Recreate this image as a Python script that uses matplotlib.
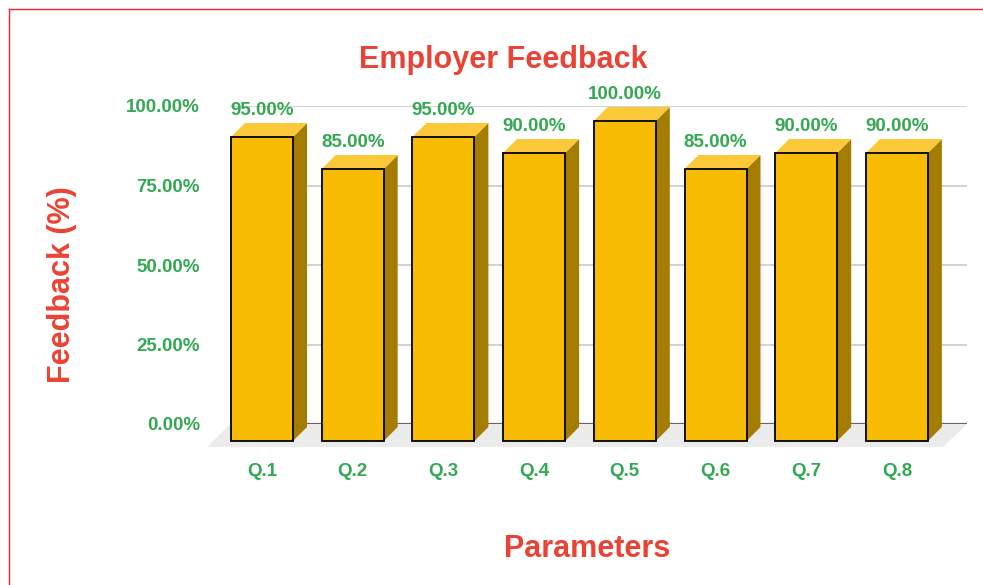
import matplotlib
matplotlib.use("Agg")
import matplotlib.pyplot as plt
from matplotlib.patches import Rectangle, Polygon
from matplotlib.lines import Line2D

# ---- data ----
categories = ["Q.1", "Q.2", "Q.3", "Q.4", "Q.5", "Q.6", "Q.7", "Q.8"]
feedback = [95, 85, 95, 90, 100, 85, 90, 90]
yticks = [0, 25, 50, 75, 100]

# ---- style ----
plt.rcParams['font.family'] = ['Liberation Sans', 'DejaVu Sans']
GREEN = "#34A853"
RED = "#EA4335"
FRONT = "#F9BC04"
TOP = "#FBC838"
SIDE = "#A57C02"

W, H = 983, 585
fig = plt.figure(figsize=(W / 100, H / 100), dpi=100)
fig.patch.set_facecolor("white")

def fx(px):
    return px / W

def fy(py_top):
    return (H - py_top) / H

# red frame (top and left lines visible)
fig.add_artist(Line2D([fx(9), fx(9)], [fy(9), fy(H + 5)], color="#E8262B", lw=1.0, transform=fig.transFigure))
fig.add_artist(Line2D([fx(9), fx(W + 5)], [fy(9), fy(9)], color="#E8262B", lw=1.0, transform=fig.transFigure))

# ---- back wall axes (gridlines, y tick labels, floor) ----
bl, br, bb, bt = 230, 967, 424, 106
axb = fig.add_axes([fx(bl), fy(bb), fx(br - bl), (bb - bt) / H])
axb.set_xlim(0, 1)
axb.set_ylim(0, 100)
axb.set_facecolor("none")
for s in axb.spines.values():
    s.set_visible(False)
axb.set_xticks([])
axb.set_yticks(yticks)
axb.set_yticklabels([f"{t:.2f}%" for t in yticks], color=GREEN, fontsize=13.5, fontweight="bold")
axb.tick_params(axis="y", length=0, pad=21.5)
for t in yticks[1:]:
    axb.axhline(t, color="#D3D3D3", lw=1.5, zorder=1)
# floor
fl_front_y, fl_front_l, fl_front_r = 447, 207, 943
floor = Polygon([
    ((fl_front_l - bl) / (br - bl), (bb - fl_front_y) / (bb - bt) * 100),
    ((fl_front_r - bl) / (br - bl), (bb - fl_front_y) / (bb - bt) * 100),
    (1, 0), (0, 0)], closed=True, facecolor="#EBEBEB", edgecolor="none",
    transform=axb.transData, clip_on=False, zorder=0)
axb.add_patch(floor)
axb.axhline(0, color="#666666", lw=1.6, zorder=2)

# ---- front axes (bars) ----
x0, unit = 262, 90.7
xmin, xmax = -0.6, 7.5
fb, ft = 441, 121
fl = x0 + xmin * unit
fw = (xmax - xmin) * unit
axf = fig.add_axes([fx(fl), fy(fb), fw / W, (fb - ft) / H])
axf.set_xlim(xmin, xmax)
axf.set_ylim(0, 100)
axf.set_facecolor("none")
for s in axf.spines.values():
    s.set_visible(False)
axf.set_yticks([])
axf.set_xticks(range(len(categories)))
axf.set_xticklabels(categories, color=GREEN, fontsize=13.5, fontweight="bold")
axf.tick_params(axis="x", length=0, pad=15.5)

bw = 62 / unit
depth_px = 14
dx = depth_px / unit
dy = depth_px * 100 / (fb - ft)

for i, v in enumerate(feedback):
    l, r = i - bw / 2, i + bw / 2
    side = Polygon([(r, 0), (r + dx, dy), (r + dx, v + dy), (r, v)], closed=True,
                   facecolor=SIDE, edgecolor="none", clip_on=False, zorder=3)
    top = Polygon([(l, v), (r, v), (r + dx, v + dy), (l + dx, v + dy)], closed=True,
                  facecolor=TOP, edgecolor="none", clip_on=False, zorder=3)
    front = Rectangle((l, 0), bw, v, facecolor=FRONT, edgecolor="black", lw=1.3,
                      clip_on=False, zorder=4)
    axf.add_patch(side)
    axf.add_patch(top)
    axf.add_patch(front)
    axf.annotate(f"{v:.2f}%", (i, v), xytext=(0, 26), textcoords="offset pixels",
                 ha="center", va="center", color=GREEN, fontsize=13.5,
                 fontweight="bold", annotation_clip=False, zorder=5)

# ---- titles ----
fig.text(fx(503), fy(68), "Employer Feedback", ha="center", va="baseline",
         color=RED, fontsize=22, fontweight="bold")
fig.text(fx(587), fy(557), "Parameters", ha="center", va="baseline",
         color=RED, fontsize=22, fontweight="bold")
fig.text(fx(70), fy(285), "Feedback (%)", ha="center", va="baseline", rotation=90,
         rotation_mode="anchor", color=RED, fontsize=22, fontweight="bold")

fig.savefig("out.png", dpi=100, facecolor="white")
